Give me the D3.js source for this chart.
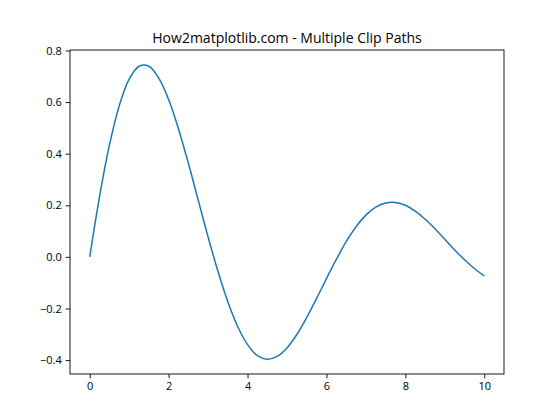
<!DOCTYPE html>
<html>
<head>
<meta charset="utf-8">
<script src="https://cdn.jsdelivr.net/npm/d3@7"></script>
<style>
  body { margin: 0; background: #fff; }
  text { font-family: "Open Sans", "Noto Sans", sans-serif; fill: #000; }
</style>
</head>
<body>
<div id="chart"></div>
<script>
// values (x step 0.25)
var xValues = d3.range(0, 10.001, 0.25);
var yValues = [0, 0.235, 0.434, 0.587, 0.689, 0.739, 0.739, 0.693, 0.610, 0.496,
  0.363, 0.220, 0.077, -0.056, -0.174, -0.270, -0.340, -0.383, -0.397, -0.386,
  -0.353, -0.301, -0.235, -0.161, -0.084, -0.010, 0.059, 0.117, 0.162, 0.193,
  0.209, 0.211, 0.200, 0.177, 0.146, 0.109, 0.068, 0.027, -0.011, -0.045, -0.074];
var xTicks = [0, 2, 4, 6, 8, 10];
var yTicks = [-0.4, -0.2, 0.0, 0.2, 0.4, 0.6, 0.8];
var title = "How2matplotlib.com - Multiple Clip Paths";

var svgWidth = 560, svgHeight = 420;
var margin = {top: 50, right: 56, bottom: 46, left: 70};
var width = svgWidth - margin.left - margin.right,
    height = svgHeight - margin.top - margin.bottom;

var svg = d3.select("#chart").append("svg")
    .attr("width", svgWidth)
    .attr("height", svgHeight);

var chart = svg.append("g")
    .attr("transform", `translate(${margin.left}, ${margin.top})`);

var x = d3.scaleLinear().domain([-0.5, 10.5]).range([0, width]);
var y = d3.scaleLinear().domain([-0.454, 0.802]).range([height, 0]);

var data = xValues.map((d, i) => ({x: d, y: yValues[i]}));

// the curve
chart.append("path")
    .datum(data)
    .attr("fill", "none")
    .attr("stroke", "#1f77b4")
    .attr("stroke-width", 1.5)
    .attr("d", d3.line().x(d => x(d.x)).y(d => y(d.y)).curve(d3.curveCatmullRom));

// axes
var xAxis = chart.append("g")
    .attr("transform", `translate(0, ${height})`)
    .call(d3.axisBottom(x).tickValues(xTicks).tickSize(4.3).tickPadding(4).tickFormat(d3.format("d")));
var yAxis = chart.append("g")
    .call(d3.axisLeft(y).tickValues(yTicks).tickSize(4.3).tickPadding(4).tickFormat(d3.format(".1f")));

[xAxis, yAxis].forEach(function(a) {
    a.select(".domain").remove();
    a.selectAll("line").attr("stroke", "#000").attr("stroke-width", 0.9);
    a.selectAll("text").style("font-size", "11px").attr("fill", "#000");
});
yAxis.selectAll("text").text(d => d3.format(".1f")(d).replace("-", "\u2212"));

// frame
chart.append("rect")
    .attr("width", width)
    .attr("height", height)
    .attr("fill", "none")
    .attr("stroke", "#000")
    .attr("stroke-width", 0.9);

chart.append("text")
    .attr("x", width / 2)
    .attr("y", -7)
    .attr("text-anchor", "middle")
    .style("font-size", "14px")
    .text(title);
</script>
</body>
</html>
